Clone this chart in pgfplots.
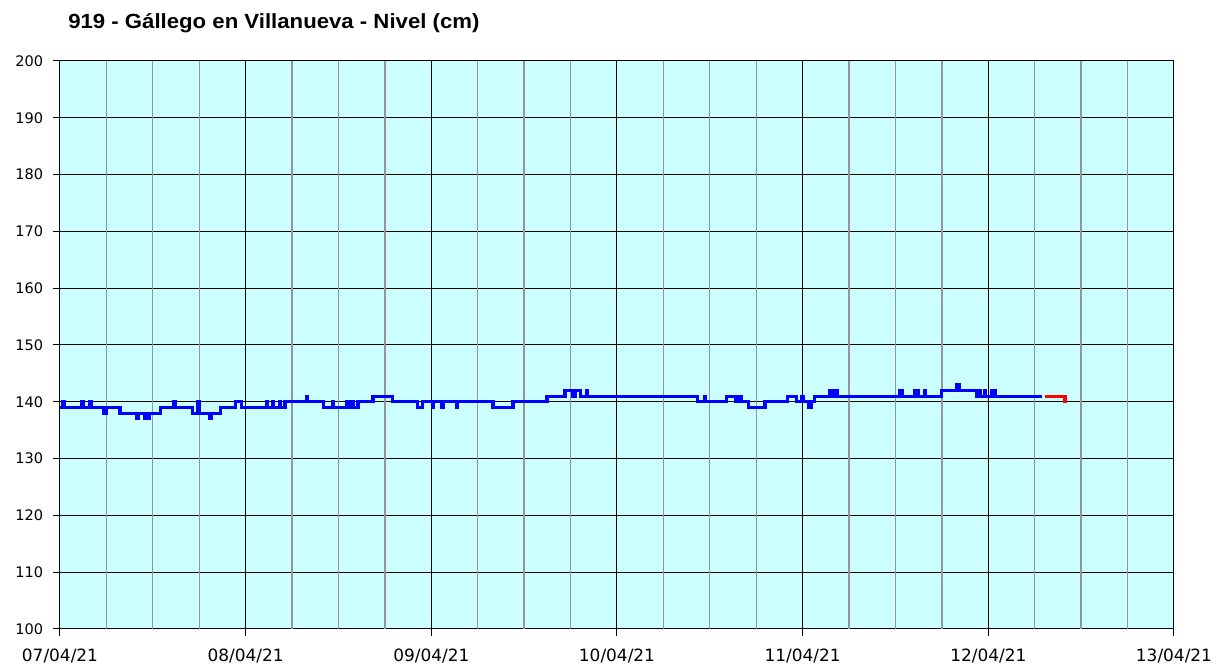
\documentclass[border=0pt]{standalone}
\usepackage{pgfplots}
\pgfplotsset{compat=1.18}
\usepackage{fontspec}
\setmainfont{DejaVu Sans}
\newfontfamily\titlefont{Liberation Sans}
\definecolor{bgcyan}{HTML}{CCFFFF}
\definecolor{gridgray}{RGB}{150,150,150}
\begin{document}
\begin{tikzpicture}
\begin{axis}[
  scale only axis,
  width=835.5pt, height=426pt,
  xmin=0, xmax=6, ymin=100, ymax=200,
  xtick={0,1,2,3,4,5,6},
  xticklabels={07/04/21,08/04/21,09/04/21,10/04/21,11/04/21,12/04/21,13/04/21},
  ytick={100,110,...,200},
  extra x ticks={0.25,0.5,0.75,1.25,1.5,1.75,2.25,2.5,2.75,3.25,3.5,3.75,4.25,4.5,4.75,5.25,5.5,5.75},
  extra x tick labels={},
  extra x tick style={grid=major, major tick length=0pt,
    major grid style={draw=gridgray, line width=1pt}},
  tick pos=left, tick align=outside,
  major tick length=5pt,
  xmajorgrids, ymajorgrids,
  major grid style={draw=black, line width=0.75pt},
  axis line style={black, line width=0.75pt},
  tick style={black, line width=0.75pt},
  axis background/.style={fill=bgcyan},
  /pgf/number format/assume math mode=true,
  yticklabel style={font=\fontsize{10.9}{12}\selectfont, inner sep=0pt, xshift=-7.5pt},
  xticklabel style={font=\fontsize{12.7}{14}\selectfont, inner sep=0pt, yshift=-10pt},
  clip=false,
]
\addplot[const plot, color=blue, line width=2.3pt] coordinates {
(0,139)(0.012,140)(0.022,139)(0.115,140)(0.125,139)(0.158,140)(0.168,139)
(0.232,138)(0.25,139)(0.323,138)(0.412,137)(0.42,138)(0.455,137)(0.463,138)
(0.475,137)(0.483,138)(0.539,139)(0.612,140)(0.622,139)(0.716,138)(0.74,140)
(0.75,138)(0.808,137)(0.815,138)(0.862,139)(0.943,140)(0.98,139)(1.112,140)
(1.12,139)(1.145,140)(1.152,139)(1.183,140)(1.19,139)(1.212,140)(1.328,141)
(1.335,140)(1.417,139)(1.468,140)(1.475,139)(1.544,140)(1.551,139)(1.571,140)
(1.578,139)(1.605,140)(1.686,141)(1.793,140)(1.928,139)(1.95,140)(2.004,139)
(2.011,140)(2.057,139)(2.064,140)(2.136,139)(2.143,140)(2.332,139)(2.44,140)
(2.623,141)(2.72,142)(2.758,141)(2.774,142)(2.801,141)(2.836,142)(2.843,141)
(3.436,140)(3.472,141)(3.479,140)(3.592,141)(3.636,140)(3.652,141)(3.673,140)
(3.706,139)(3.797,140)(3.916,141)(3.969,140)(3.996,141)(4.005,140)(4.029,139)
(4.05,140)(4.066,141)(4.147,142)(4.16,141)(4.17,142)(4.185,141)(4.524,142)
(4.54,141)(4.603,142)(4.61,141)(4.619,142)(4.626,141)(4.657,142)(4.664,141)
(4.75,142)(4.831,143)(4.847,142)(4.939,141)(4.953,142)(4.96,141)(4.98,142)
(4.987,141)(5.018,142)(5.025,141)(5.034,142)(5.041,141)(5.289,141)
};
\addplot[const plot, color=red, line width=2.3pt] coordinates {
(5.305,141)(5.413,140)(5.423,140)
};
\end{axis}
\node[anchor=base west, inner sep=0pt, font=\titlefont\bfseries\fontsize{15.4}{17}\selectfont]
  at (6pt,450pt) {\scalebox{1.08}[1]{919 - Gállego en Villanueva - Nivel (cm)}};
\pgfresetboundingbox
\path[use as bounding box] (-45pt,-30.75pt) rectangle (876.75pt,471.75pt);
\end{tikzpicture}
\end{document}
